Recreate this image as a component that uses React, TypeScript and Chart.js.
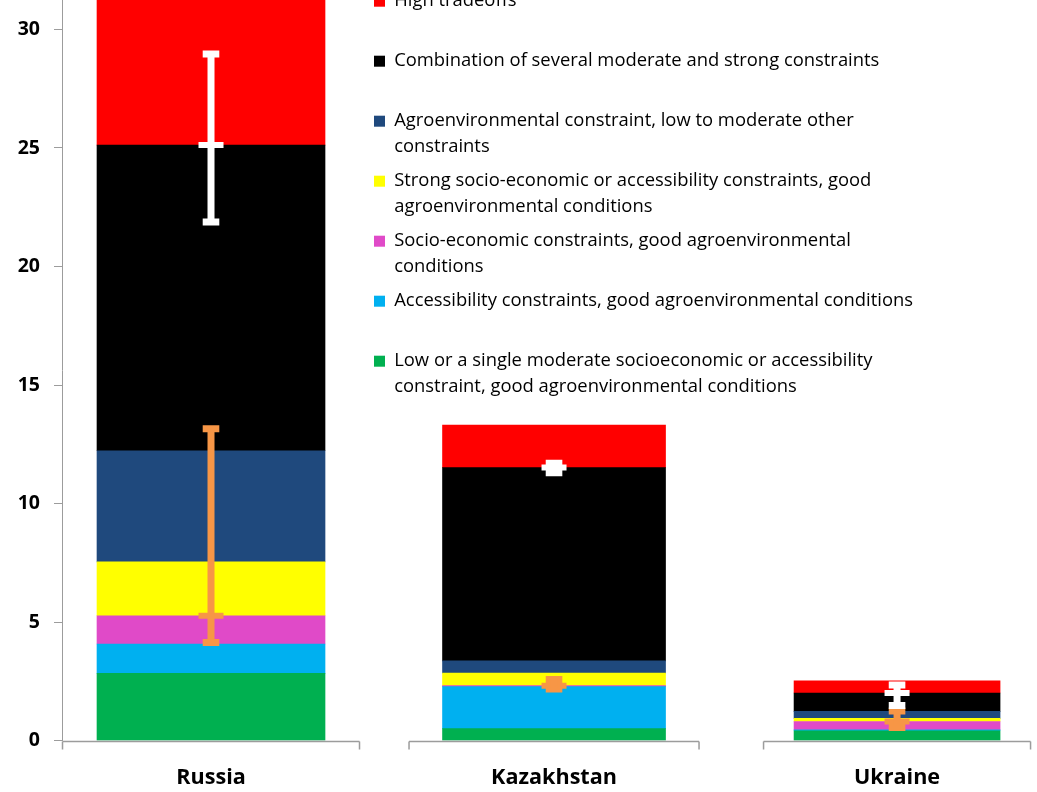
import React, { useEffect, useRef } from 'react';
import { Chart, registerables } from 'chart.js';

Chart.register(...registerables);

// ---------- data ----------
const categories = ['Russia', 'Kazakhstan', 'Ukraine'];
const yTickValues = [0, 5, 10, 15, 20, 25, 30];
const yVisibleMax = 31.24;

// stacked series, bottom to top
const lowSingle = [2.84, 0.51, 0.42];
const accessibility = [1.24, 1.77, 0.04];
const socioEconomic = [1.19, 0.04, 0.35];
const strongSocio = [2.27, 0.53, 0.13];
const agroEnv = [4.69, 0.52, 0.3];
const combination = [12.89, 8.15, 0.77];
const highTradeoffs = [7.9, 1.79, 0.52];

// error bars (low / high ends)
const whiteErrLow = [21.88, 11.3, 1.48];
const whiteErrHigh = [28.96, 11.7, 2.35];
const orangeErrLow = [4.14, 2.18, 0.56];
const orangeErrHigh = [13.16, 2.58, 1.25];

const seriesLabels: string[][] = [
  ['Low or a single moderate socioeconomic or accessibility', 'constraint, good agroenvironmental conditions'],
  ['Accessibility constraints, good agroenvironmental conditions'],
  ['Socio-economic constraints, good agroenvironmental', 'conditions'],
  ['Strong socio-economic or accessibility constraints, good', 'agroenvironmental conditions'],
  ['Agroenvironmental constraint, low to moderate other', 'constraints'],
  ['Combination of several moderate and strong constraints'],
  ['High tradeoffs'],
];
const seriesValues = [lowSingle, accessibility, socioEconomic, strongSocio, agroEnv, combination, highTradeoffs];

// ---------- styles / layout ----------
const seriesColors = ['#00B050', '#00B0F0', '#E04AC8', '#FFFF00', '#1F497D', '#000000', '#FF0000'];
const FONT = "'Open Sans', sans-serif";
const axisGray = '#9C9C9C';
const barWidths = [228, 223, 206];
const segHalf = [148.5, 145, 133.5];
const xMin = -0.4344;
const xMax = 2.408;
const W = 1037;
const H = 792;
const xAxisHeight = 51.3;
const yAxisWidth = 62;
const legendX = 374;
const legendY = -8;
const legendPad = 8;

const stackTop = (upto: number, c: number) => {
  let s = 0;
  for (let k = 0; k <= upto; k++) s += seriesValues[k][c];
  return s;
};

function errorDatasets(low: number[], high: number[], midSeries: number, color: string, order: number, id: string) {
  return [
    {
      type: 'bar',
      label: id + '-stem',
      data: categories.map((_, c) => ({ x: c, y: [low[c], high[c]] })),
      backgroundColor: color,
      borderWidth: 0,
      grouped: false,
      maxBarThickness: 7,
      stack: id + '-stem',
      order,
    },
    {
      type: 'line',
      label: id + '-caps',
      data: categories.flatMap((_, c) => [
        { x: c, y: low[c] },
        { x: c, y: high[c] },
      ]),
      showLine: false,
      pointStyle: 'line',
      pointRadius: 8.3,
      pointHoverRadius: 8.3,
      pointBorderWidth: 7,
      pointHoverBorderWidth: 7,
      pointBorderColor: color,
      pointBackgroundColor: color,
      stack: id + '-caps',
      order,
    },
    {
      type: 'line',
      label: id + '-mid',
      data: categories.map((_, c) => ({ x: c, y: stackTop(midSeries, c) })),
      showLine: false,
      pointStyle: 'line',
      pointRadius: 12.5,
      pointHoverRadius: 12.5,
      pointBorderWidth: 6,
      pointHoverBorderWidth: 6,
      pointBorderColor: color,
      pointBackgroundColor: color,
      stack: id + '-mid',
      order,
    },
  ];
}

const axisSegmentsPlugin = {
  id: 'axisSegments',
  afterDatasetsDraw(chart: any) {
    const { ctx, scales } = chart;
    const x = scales.x;
    const y = scales.y;
    const yPix = Math.round(y.getPixelForValue(0)) + 0.5;
    ctx.save();
    ctx.strokeStyle = axisGray;
    ctx.lineWidth = 1.5;
    categories.forEach((_, c) => {
      const cx = x.getPixelForValue(c);
      const l = Math.max(chart.chartArea.left, cx - segHalf[c]);
      const r = cx + segHalf[c];
      ctx.beginPath();
      ctx.moveTo(l, yPix);
      ctx.lineTo(r, yPix);
      ctx.moveTo(l, yPix);
      ctx.lineTo(l, yPix + 8);
      ctx.moveTo(r, yPix);
      ctx.lineTo(r, yPix + 8);
      ctx.stroke();
    });
    ctx.restore();
  },
};

const legendPlacePlugin = {
  id: 'legendPlace',
  afterLayout(chart: any) {
    const lg = chart.legend;
    if (!lg) return;
    lg.left = legendX - legendPad;
    lg.top = legendY - legendPad;
    lg.width = 700;
    lg.height = 2000;
    lg.right = lg.left + lg.width;
    lg.bottom = lg.top + lg.height;
  },
};

export default function App() {
  const ref = useRef<HTMLCanvasElement>(null);

  useEffect(() => {
    document.body.style.margin = '0';
    const datasets: any[] = [];
    seriesValues.forEach((vals, s) => {
      categories.forEach((_, c) => {
        datasets.push({
          type: 'bar',
          label: seriesLabels[s].join(' '),
          data: [{ x: c, y: vals[c] }],
          backgroundColor: seriesColors[s],
          borderWidth: 0,
          barThickness: barWidths[c],
          stack: 'main',
          order: 10,
        });
      });
    });
    datasets.push(...errorDatasets(whiteErrLow, whiteErrHigh, 5, '#FFFFFF', 1, 'white'));
    datasets.push(...errorDatasets(orangeErrLow, orangeErrHigh, 2, '#F79646', 2, 'orange'));

    const chart = new Chart(ref.current as HTMLCanvasElement, {
      type: 'bar',
      data: { datasets },
      options: {
        responsive: false,
        animation: false,
        events: [],
        layout: { padding: 0, autoPadding: false },
        plugins: {
          tooltip: { enabled: false },
          title: { display: false },
          legend: {
            display: true,
            position: 'chartArea',
            align: 'start',
            labels: {
              boxWidth: 11,
              boxHeight: 11,
              padding: legendPad,
              color: '#000000',
              font: { family: FONT, size: 18.4, lineHeight: '26px' },
              generateLabels: () =>
                seriesLabels
                  .map((lines, s) => ({
                    text: lines.length > 1 ? lines : [lines[0], ''],
                    fillStyle: seriesColors[s],
                    strokeStyle: seriesColors[s],
                    lineWidth: 0,
                    hidden: false,
                    datasetIndex: s * categories.length,
                  }))
                  .reverse(),
            },
          },
        },
        scales: {
          x: {
            type: 'linear',
            min: xMin,
            max: xMax,
            stacked: true,
            offset: false,
            grid: { display: false, drawTicks: false },
            border: { display: false },
            afterBuildTicks: (s: any) => {
              s.ticks = categories.map((_, i) => ({ value: i }));
            },
            ticks: {
              autoSkip: false,
              maxRotation: 0,
              minRotation: 0,
              padding: 24.5,
              color: '#000000',
              font: { family: FONT, size: 21.6, weight: 'bold' },
              callback: (_v: any, i: number) => categories[i],
            },
            afterFit: (s: any) => {
              s.height = xAxisHeight;
              s.paddingLeft = 0;
              s.paddingRight = 0;
            },
          },
          y: {
            type: 'linear',
            stacked: true,
            min: 0,
            max: yVisibleMax,
            afterBuildTicks: (s: any) => {
              s.ticks = yTickValues.map((v) => ({ value: v }));
            },
            grid: { drawOnChartArea: false, drawTicks: true, tickLength: 8, color: axisGray, lineWidth: 1 },
            border: { display: true, color: axisGray, width: 1 },
            ticks: {
              padding: 14,
              color: '#000000',
              font: { family: FONT, size: 19.5, weight: 'bold' },
              callback: (v: any) => String(v),
            },
            afterFit: (s: any) => {
              s.width = yAxisWidth;
              s.paddingTop = 0;
              s.paddingBottom = 0;
            },
          },
        },
      } as any,
      plugins: [axisSegmentsPlugin, legendPlacePlugin],
    } as any);
    return () => chart.destroy();
  }, []);

  return (
    <div style={{ width: W, height: H, position: 'relative', overflow: 'hidden', background: '#ffffff' }}>
      <canvas ref={ref} width={W} height={H} style={{ display: 'block' }} />
    </div>
  );
}
